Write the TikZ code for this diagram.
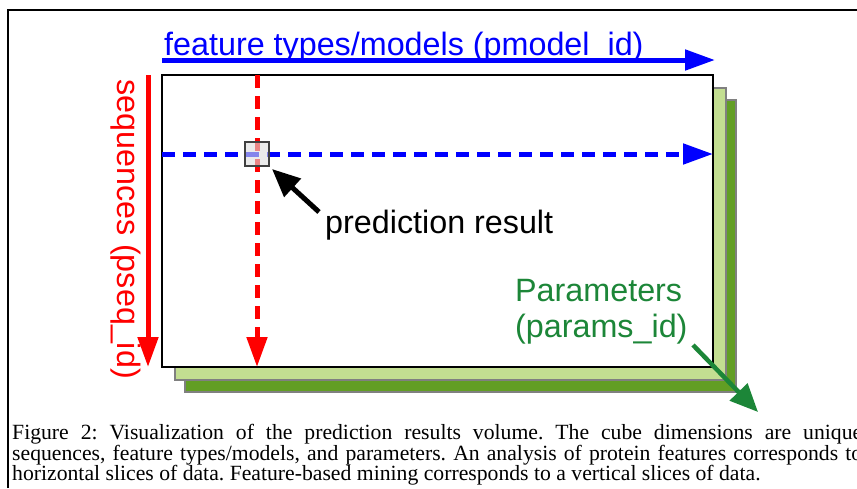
\documentclass[tikz,border=0pt]{standalone}
\usepackage{fontspec}
\setmainfont{Liberation Serif}
\setsansfont{Liberation Sans}
\usetikzlibrary{arrows.meta}

\definecolor{paleleaf}{RGB}{195,222,145}
\definecolor{darkleaf}{RGB}{98,158,36}
\definecolor{edgegray}{RGB}{128,128,128}
\definecolor{paramgreen}{RGB}{28,134,56}
\definecolor{axisblue}{RGB}{0,0,255}

\begin{document}
\begin{tikzpicture}[
    x=1pt, y=-1pt,
    axis/.style={line width=5pt, -{Triangle[length=30pt,width=20pt]}},
    slice/.style={axis, dash pattern=on 13pt off 8pt},
    layer/.style={draw=edgegray, line width=2.5pt, minimum width=551pt,
        minimum height=292pt, inner sep=0pt, outer sep=0pt},
    lbl/.style={font=\sffamily\fontsize{32.3}{36}\selectfont, inner sep=0pt},
  ]
  \useasboundingbox (0,0) rectangle (857,488);
  % page frame
  \draw[line width=2.5pt] (8,488) -- (8,10) -- (857,10);

  % stacked slices of the volume
  \node[layer, fill=darkleaf] (back) at (460.5,246) {};
  \node[layer, fill=paleleaf] (middle) at (450.5,234) {};
  \node[layer, draw=black, fill=white] (front) at (437.5,221) {};

  % axes
  \draw[axis, axisblue] ([yshift=15pt]front.north west) -- ([yshift=15pt,xshift=2pt]front.north east);
  \draw[axis, red] ([xshift=-14pt]front.north west) -- ([xshift=-14pt]front.south west);

  % slices through one result
  \coordinate (hit) at (257,154);
  \draw[slice, red] (front.north -| hit) -- (front.south -| hit);
  \draw[slice, axisblue] (front.west |- hit) -- (front.east |- hit);
  \node[draw={rgb,255:red,64;green,64;blue,64}, line width=2.5pt, fill=black!13, fill opacity=0.6,
      draw opacity=1, minimum size=24pt, inner sep=0pt, outer sep=0pt] (cell) at (hit) {};

  % labels
  \node[lbl, text=axisblue, anchor=base west] (models) at (164,55) {feature types/models (pmodel\_id)};
  \node[lbl, text=red, rotate=-90] (sequences) at (126,229) {sequences (pseq\_id)};
  \node[lbl, anchor=base west] (result) at (325,233) {prediction result};
  \node[lbl, text=paramgreen, anchor=north west, align=left] (params) at (515,279) {Parameters\\(params\_id)};

  \coordinate (pointer) at (319,212);
  \draw[line width=5pt, -{Triangle[length=28pt,width=24pt]}] (pointer) -- ([xshift=3pt,yshift=-3pt]cell.south east);
  \coordinate (pstart) at (693,345);
  \coordinate (pend) at (758,412);
  \draw[paramgreen, line width=4.5pt, -{Triangle[length=28pt,width=24pt]}] (pstart) -- (pend);

  % caption
  \node[anchor=north west, inner sep=0pt, text width=850pt, align=justify,
      font=\fontsize{21.7}{20.6}\selectfont\frenchspacing] (caption) at (12,424)
    {Figure 2: Visualization of the prediction results volume. The cube dimensions are unique\linebreak
     sequences, feature types/models, and parameters. An analysis of protein features corresponds to\linebreak
     horizontal slices of data. Feature-based mining corresponds to a vertical slices of data.};
\end{tikzpicture}
\end{document}
